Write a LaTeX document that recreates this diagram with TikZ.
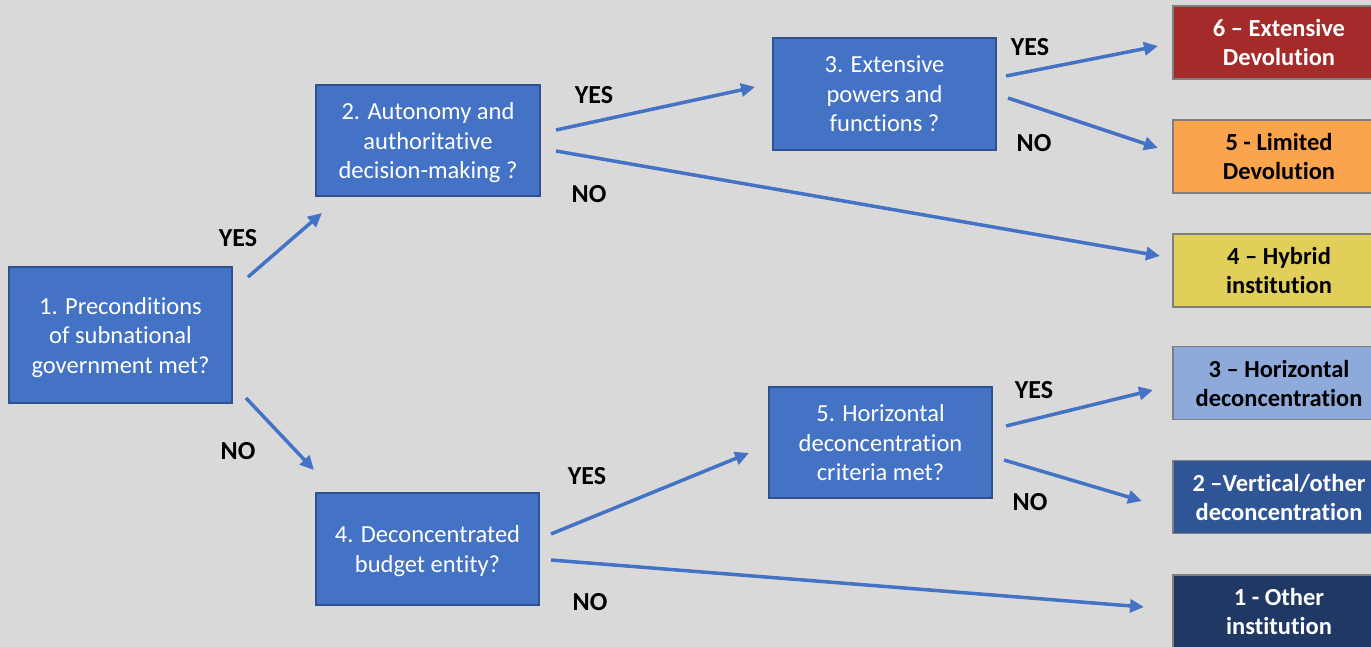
\documentclass[tikz,border=0pt]{standalone}
\usepackage{fontspec}
\setmainfont{Carlito}[Ligatures=NoCommon]
\usetikzlibrary{arrows.meta,calc}
\definecolor{bg}{HTML}{D9D9D9}
\definecolor{qblue}{HTML}{4472C4}
\definecolor{qborder}{HTML}{2F528F}
\definecolor{oborder}{HTML}{7F7F7F}
\definecolor{cred}{HTML}{A52A2A}
\definecolor{corange}{HTML}{FBA44E}
\definecolor{cyellow}{HTML}{E2CF5A}
\definecolor{clight}{HTML}{8EAADB}
\definecolor{cmid}{HTML}{2F5597}
\definecolor{cdark}{HTML}{203864}
\tikzset{
  qbox/.style={draw=qborder, line width=1.2pt, fill=qblue, text=white, align=center,
    inner sep=0pt, text depth=-3pt, font=\fontsize{24.5}{29.5}\selectfont},
  obox/.style={draw=oborder, line width=1.5pt, align=center, inner sep=0pt,
    minimum width=212, minimum height=73, font=\bfseries\fontsize{24.5}{29}\selectfont},
  lab/.style={font=\bfseries\fontsize{26}{28}\selectfont, text=black},
  arr/.style={draw=qblue, line width=3.5pt, -{Triangle[length=14pt,width=13pt]}},
}
\begin{document}
\begin{tikzpicture}[x=1pt,y=-1pt]
\useasboundingbox (0,0) rectangle (1371,647);
\clip (0,0) rectangle (1371,647);
\fill[bg] (0,0) rectangle (1371,647);

% question boxes
\node[qbox, minimum width=223, minimum height=136] (q1) at (120.5,335) {1. Preconditions\\of subnational\\government met?};
\node[qbox, minimum width=224, minimum height=111] (q2) at (428,140.5) {2. Autonomy and\\authoritative\\decision-making ?};
\node[qbox, minimum width=223, minimum height=112] (q3) at (884.5,94) {3. Extensive\\powers and\\functions ?};
\node[qbox, minimum width=223, minimum height=112] (q4) at (427.5,549) {4. Deconcentrated\\budget entity?};
\node[qbox, minimum width=223, minimum height=111] (q5) at (880.5,442.5) {5. Horizontal\\deconcentration\\criteria met?};

% outcome boxes
\node[obox, fill=cred, text=white] (o6) at (1279,42.5) {6 -- Extensive\\Devolution};
\node[obox, fill=corange, text=black] (o5) at (1279,156.5) {5 - Limited\\Devolution};
\node[obox, fill=cyellow, text=black] (o4) at (1279,270.5) {4 -- Hybrid\\institution};
\node[obox, fill=clight, text=black] (o3) at (1279,383) {3 -- Horizontal\\deconcentration};
\node[obox, fill=cmid, text=white] (o2) at (1279,497) {2 --Vertical/other\\deconcentration};
\node[obox, fill=cdark, text=white] (o1) at (1279,611.5) {1 - Other\\institution};

% connector end points
\coordinate (s12) at (248,277);  \coordinate (e12) at (322,213);
\coordinate (s14) at (246,398);  \coordinate (e14) at (314,470);
\coordinate (s23) at (556,130);  \coordinate (e23) at (755,87);
\coordinate (s2h) at (556,151);  \coordinate (e2h) at (1160,256);
\coordinate (s36) at (1006,76);  \coordinate (e36) at (1158,46);
\coordinate (s35) at (1008,98);  \coordinate (e35) at (1158,148);
\coordinate (s45) at (551,534);  \coordinate (e45) at (749,453);
\coordinate (s41) at (551,560);  \coordinate (e41) at (1144,607);
\coordinate (s53) at (1006,426); \coordinate (e53) at (1153,390);
\coordinate (s52) at (1004,460); \coordinate (e52) at (1142,501);

\draw[arr] (s12) -- (e12);
\draw[arr] (s14) -- (e14);
\draw[arr] (s23) -- (e23);
\draw[arr] (s2h) -- (e2h);
\draw[arr] (s36) -- (e36);
\draw[arr] (s35) -- (e35);
\draw[arr] (s45) -- (e45);
\draw[arr] (s41) -- (e41);
\draw[arr] (s53) -- (e53);
\draw[arr] (s52) -- (e52);

% labels
\node[lab] (l12) at (238,238) {YES};
\node[lab] (l14) at (238,451) {NO};
\node[lab] (l23) at (594,95) {YES};
\node[lab] (l2h) at (589,194) {NO};
\node[lab] (l36) at (1030,47) {YES};
\node[lab] (l35) at (1034,143) {NO};
\node[lab] (l45) at (587,476) {YES};
\node[lab] (l41) at (590,602) {NO};
\node[lab] (l53) at (1034,390) {YES};
\node[lab] (l52) at (1030,502) {NO};
\end{tikzpicture}
\end{document}
